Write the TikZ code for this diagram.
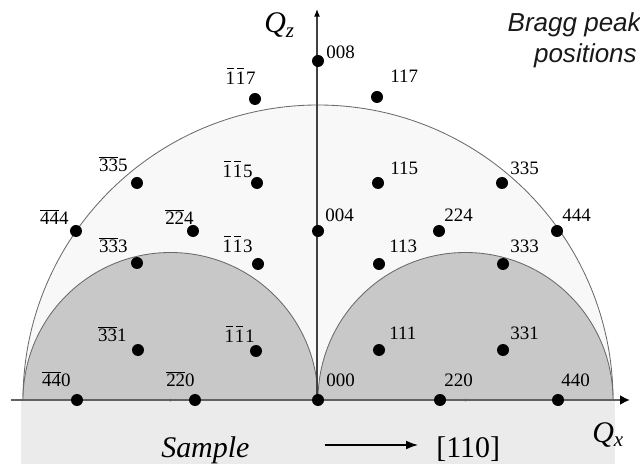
\documentclass[tikz,border=0pt]{standalone}
\usepackage{fontspec}
\setmainfont{Liberation Serif}
\newfontfamily\braggfont{Liberation Sans}
\usepackage{tikz}
\usetikzlibrary{arrows.meta, calc}
\definecolor{ewaldlight}{HTML}{F8F8F8}
\definecolor{ewalddark}{HTML}{C8C8C8}
\definecolor{samplegray}{HTML}{EBEBEB}
\definecolor{rimgray}{HTML}{6A6A6A}
\newcommand{\nb}[1]{$\overline{\mbox{#1}}$}
\newcommand{\nbone}{\ooalign{1\cr\hidewidth\rule[0.82em]{0.34em}{0.05em}\hidewidth}\kern0.04em}

\tikzset{
  peak/.style={circle, fill=black, inner sep=0pt, minimum size=3mm},
  hkl/.style={inner sep=0pt, font=\fontsize{13.5}{15}\selectfont},
  rhkl/.style={hkl, anchor=south west},
  lhkl/.style={hkl, anchor=south east},
  bigtext/.style={inner sep=0pt, anchor=base west, font=\fontsize{21.3}{24}\selectfont},
}

\begin{document}
\begin{tikzpicture}[x=0.25mm, y=0.25mm]
    \useasboundingbox (-318,-64) rectangle (322,400);
    % sample and scattering regions
    \fill[samplegray] (-297,-64) rectangle (297,0);
    \fill[ewaldlight] (295,0) arc (0:180:295) -- cycle;
    \draw[rimgray, line width=0.6pt] (295,0) arc (0:180:295);
    \filldraw[fill=ewalddark, draw=rimgray, line width=0.6pt] (0,0) arc (0:180:147.5) -- cycle;
    \filldraw[fill=ewalddark, draw=rimgray, line width=0.6pt] (295,0) arc (0:180:147.5) -- cycle;
    \fill[rimgray] (-147.5,0) circle (1.5);
    \fill[rimgray] (147.5,0) circle (1.5);

    % axes
    \coordinate (origin) at (0,0);
    \coordinate (qxtail) at (-307,0);
    \coordinate (qxtip) at (312,0);
    \coordinate (qztip) at (-1,391);
    \draw[line width=1.5pt, black!62, -{Latex[length=2.5mm, width=2.5mm, black]}] (qxtail) -- (qxtip);
    \draw[line width=0.9pt, black!75, -{Latex[length=1.9mm, width=1.5mm, black]}] (-1,0) -- (qztip);
    \node[bigtext] (qz) at (-54,367) {\textit{Q}\textsubscript{\textit{z}}};
    \node[bigtext] (qx) at (274,-42) {\textit{Q}\textsubscript{\textit{x}}};

    % Bragg peaks, right half
    \node[peak] (p008) at (0,339) {};
    \node[rhkl] at ($(p008)+(8,2)$) {008};
    \node[peak] (p117) at (59,303) {};
    \node[rhkl] at ($(p117)+(13,14)$) {117};
    \node[peak] (p115) at (60,217) {};
    \node[rhkl] at ($(p115)+(12,8)$) {115};
    \node[peak] (p335) at (184,217) {};
    \node[rhkl] at ($(p335)+(8,8)$) {335};
    \node[peak] (p444) at (239,169) {};
    \node[rhkl] at ($(p444)+(5,9)$) {444};
    \node[peak] (p224) at (121,169) {};
    \node[rhkl] at ($(p224)+(5,9)$) {224};
    \node[peak] (p004) at (0,169) {};
    \node[rhkl] at ($(p004)+(7,9)$) {004};
    \node[peak] (p113) at (61,136) {};
    \node[rhkl] at ($(p113)+(10,11)$) {113};
    \node[peak] (p333) at (185,136) {};
    \node[rhkl] at ($(p333)+(7,11)$) {333};
    \node[peak] (p111) at (61,50) {};
    \node[rhkl] at ($(p111)+(10,10)$) {111};
    \node[peak] (p331) at (185,50) {};
    \node[rhkl] at ($(p331)+(7,10)$) {331};
    \node[peak] (p000) at (origin) {};
    \node[rhkl] at ($(p000)+(8,13)$) {000};
    \node[peak] (p220) at (122,0) {};
    \node[rhkl] at ($(p220)+(4,13)$) {220};
    \node[peak] (p440) at (240,0) {};
    \node[rhkl] at ($(p440)+(3,13)$) {440};

    % Bragg peaks, left half
    \node[peak] (m117) at (-63,301) {};
    \node[lhkl] at ($(m117)+(1,14)$) {\nbone\nbone7};
    \node[peak] (m335) at (-181,217) {};
    \node[lhkl] at ($(m335)+(-9,11)$) {\nb{33}5};
    \node[peak] (m115) at (-61,217) {};
    \node[lhkl] at ($(m115)+(-4,5)$) {\nbone\nbone5};
    \node[peak] (m444) at (-242,169) {};
    \node[lhkl] at ($(m444)+(-7,6)$) {\nb{44}4};
    \node[peak] (m224) at (-125,169) {};
    \node[lhkl] at ($(m224)+(1,6)$) {\nb{22}4};
    \node[peak] (m333) at (-181,137) {};
    \node[lhkl] at ($(m333)+(-9,10)$) {\nb{33}3};
    \node[peak] (m113) at (-60,136) {};
    \node[lhkl] at ($(m113)+(-5,11)$) {\nbone\nbone3};
    \node[peak] (m331) at (-180,50) {};
    \node[lhkl] at ($(m331)+(-11,8)$) {\nb{33}1};
    \node[peak] (m111) at (-62,49) {};
    \node[lhkl] at ($(m111)+(-1,8)$) {\nbone\nbone1};
    \node[peak] (m220) at (-123,0) {};
    \node[lhkl] at ($(m220)+(0,13)$) {\nb{22}0};
    \node[peak] (m440) at (-241,0) {};
    \node[lhkl] at ($(m440)+(-6,13)$) {\nb{44}0};

    % sample and direction
    \node[bigtext] (sample) at (-157,-57) {\textit{Sample}};
    \node[bigtext] (dir) at (118,-57) {[110]};
    \coordinate (dirtail) at (7,-45);
    \coordinate (dirtip) at (100,-45);
    \draw[line width=0.8pt, -{Latex[length=3mm, width=2.2mm]}] (dirtail) -- (dirtip);

    % caption top right
    \node[inner sep=0pt, anchor=base east, font=\braggfont\itshape\fontsize{18.5}{22}\selectfont, black!90] (bragg) at (323,368) {Bragg peak};
    \node[inner sep=0pt, anchor=base east, font=\braggfont\itshape\fontsize{18.5}{22}\selectfont, black!90] (positions) at (319,337) {positions};
\end{tikzpicture}
\end{document}
